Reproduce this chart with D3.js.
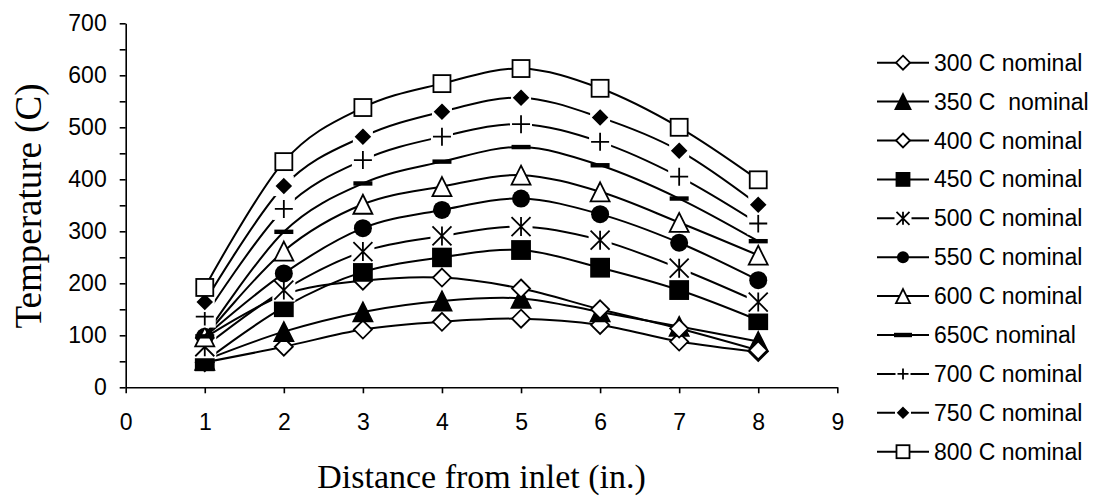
<!DOCTYPE html>
<html>
<head>
<meta charset="utf-8">
<script src="https://cdn.jsdelivr.net/npm/d3@7"></script>
<style>
  body { margin: 0; background: #fff; }
  svg { display: block; }
</style>
</head>
<body>
<svg width="1097" height="497"></svg>
<script>
// distance from inlet (in.)
var distance = [1, 2, 3, 4, 5, 6, 7, 8];

// measured temperatures (C) for each nominal setting
var t300 = [48, 78, 111, 126, 132, 120, 88, 68];
var t350 = [52, 107, 145, 166, 171, 145, 117, 88];
var t400 = [95, 178, 205, 211, 190, 150, 113, 71];
var t450 = [50, 154, 222, 250, 264, 230, 187, 129];
var t500 = [78, 187, 261, 291, 309, 283, 229, 164];
var t550 = [97, 219, 306, 341, 363, 333, 278, 206];
var t600 = [97, 262, 352, 386, 408, 376, 317, 254];
var t650 = [98, 299, 392, 434, 462, 427, 363, 281];
var t700 = [136, 343, 437, 482, 506, 472, 405, 315];
var t750 = [164, 387, 482, 530, 557, 519, 455, 351];
var t800 = [192, 434, 538, 584, 613, 575, 500, 399];

var seriesNames = ["300 C nominal", "350 C  nominal", "400 C nominal", "450 C nominal",
                   "500 C nominal", "550 C nominal", "600 C nominal", "650C nominal",
                   "700 C nominal", "750 C nominal", "800 C nominal"];
var seriesValues = [t300, t350, t400, t450, t500, t550, t600, t650, t700, t750, t800];
var markerTypes = ["diamondOpen", "triangleFilled", "diamondOpen", "squareFilled",
                   "star", "circle", "triangleOpen", "dash", "plus", "diamondFilled", "squareOpen"];

var xTicks = [0, 1, 2, 3, 4, 5, 6, 7, 8, 9];
var yTicks = [0, 50, 100, 150, 200, 250, 300, 350, 400, 450, 500, 550, 600, 650, 700];

var svg = d3.select("svg");
var sans = "'Liberation Sans', Arial, sans-serif";
var serif = "'Liberation Serif', 'Times New Roman', serif";

var x = d3.scaleLinear().domain([0, 9]).range([125.7, 837.3]);
var y = d3.scaleLinear().domain([0, 700]).range([387.3, 23.3]);

// axes
var xAxis = svg.append("g")
  .attr("transform", "translate(0," + y(0) + ")")
  .call(d3.axisBottom(x).tickValues(xTicks).tickSize(6).tickSizeOuter(0).tickPadding(20));
var yAxis = svg.append("g")
  .attr("transform", "translate(" + x(0) + ",0)")
  .call(d3.axisLeft(y).tickValues(yTicks).tickSize(6).tickSizeOuter(0).tickPadding(13)
        .tickFormat(function(d) { return d % 100 ? "" : d; }));

[xAxis, yAxis].forEach(function(a) {
  a.selectAll("path, line").attr("stroke", "#000").attr("stroke-width", 1.6);
  a.selectAll("text").attr("font-family", sans).attr("font-size", 23).attr("fill", "#000");
});

// axis titles
svg.append("text")
  .attr("x", x(4.5)).attr("y", 488)
  .attr("text-anchor", "middle")
  .attr("font-family", serif).attr("font-size", 34)
  .text("Distance from inlet (in.)");
svg.append("text")
  .attr("transform", "translate(41,206) rotate(-90)")
  .attr("text-anchor", "middle")
  .attr("font-family", serif).attr("font-size", 37)
  .text("Temperature (C)");

// marker drawing
function drawMarker(g, type, s) {
  var h = s / 2;
  if (type == "star" || type == "plus" || type == "diamondFilled") {
    var b = type == "diamondFilled" ? s + 6 : s + 4;
    g.append("rect").attr("x", -b / 2).attr("y", -b / 2).attr("width", b).attr("height", b)
      .attr("fill", "#fff");
  }
  if (type == "diamondOpen" || type == "diamondFilled") {
    g.append("path").attr("d", "M0," + (-h) + "L" + h + ",0L0," + h + "L" + (-h) + ",0Z")
      .attr("fill", type == "diamondOpen" ? "#fff" : "#000")
      .attr("stroke", "#000").attr("stroke-width", 1.8);
  } else if (type == "triangleFilled" || type == "triangleOpen") {
    g.append("path").attr("d", "M0," + (-h) + "L" + h + "," + h + "L" + (-h) + "," + h + "Z")
      .attr("fill", type == "triangleOpen" ? "#fff" : "#000")
      .attr("stroke", "#000").attr("stroke-width", 1.8).attr("stroke-linejoin", "miter");
  } else if (type == "squareFilled" || type == "squareOpen") {
    g.append("rect").attr("x", -h).attr("y", -h).attr("width", s).attr("height", s)
      .attr("fill", type == "squareOpen" ? "#fff" : "#000")
      .attr("stroke", "#000").attr("stroke-width", 1.8);
  } else if (type == "circle") {
    g.append("circle").attr("r", h).attr("fill", "#000");
  } else if (type == "dash") {
    g.append("rect").attr("x", -h).attr("y", -2.2).attr("width", s).attr("height", 4.4)
      .attr("fill", "#000");
  } else if (type == "plus") {
    g.append("path").attr("d", "M" + (-h) + ",0H" + h + "M0," + (-h) + "V" + h)
      .attr("stroke", "#000").attr("stroke-width", 1.8);
  } else if (type == "star") {
    g.append("path").attr("d", "M" + (-h) + "," + (-h) + "L" + h + "," + h +
                          "M" + h + "," + (-h) + "L" + (-h) + "," + h + "M0," + (-h) + "V" + h)
      .attr("stroke", "#000").attr("stroke-width", 1.8);
  }
}

var plotSizes = { diamondOpen: 18, triangleFilled: 19, squareFilled: 18, star: 19, circle: 18,
                  triangleOpen: 19, dash: 19, plus: 18, diamondFilled: 14, squareOpen: 17 };
var legendSizes = { diamondOpen: 14, triangleFilled: 15, squareFilled: 13, star: 13, circle: 12,
                    triangleOpen: 14, dash: 18, plus: 11, diamondFilled: 10, squareOpen: 13 };

var line = d3.line()
  .x(function(d, i) { return x(distance[i]); })
  .y(function(d) { return y(d); })
  .curve(d3.curveCardinal.tension(0));

var chart = svg.append("g");

seriesValues.forEach(function(vals, k) {
  var sg = chart.append("g");
  sg.append("path").attr("d", line(vals))
    .attr("fill", "none").attr("stroke", "#000").attr("stroke-width", 2);
  vals.forEach(function(v, i) {
    var mg = sg.append("g").attr("transform", "translate(" + x(distance[i]) + "," + y(v) + ")");
    drawMarker(mg, markerTypes[k], plotSizes[markerTypes[k]]);
  });
});

// legend
var legend = svg.append("g");
seriesNames.forEach(function(name, k) {
  var ly = 62.7 + k * 38.9;
  var row = legend.append("g").attr("transform", "translate(0," + ly + ")");
  row.append("line").attr("x1", 877).attr("x2", 929).attr("y1", 0).attr("y2", 0)
    .attr("stroke", "#000").attr("stroke-width", 2);
  drawMarker(row.append("g").attr("transform", "translate(903,0)"), markerTypes[k], legendSizes[markerTypes[k]]);
  row.append("text").attr("x", 934).attr("y", 0).attr("dy", "0.35em")
    .attr("font-family", sans).attr("font-size", 23)
    .style("white-space", "pre")
    .text(name);
});
</script>
</body>
</html>
